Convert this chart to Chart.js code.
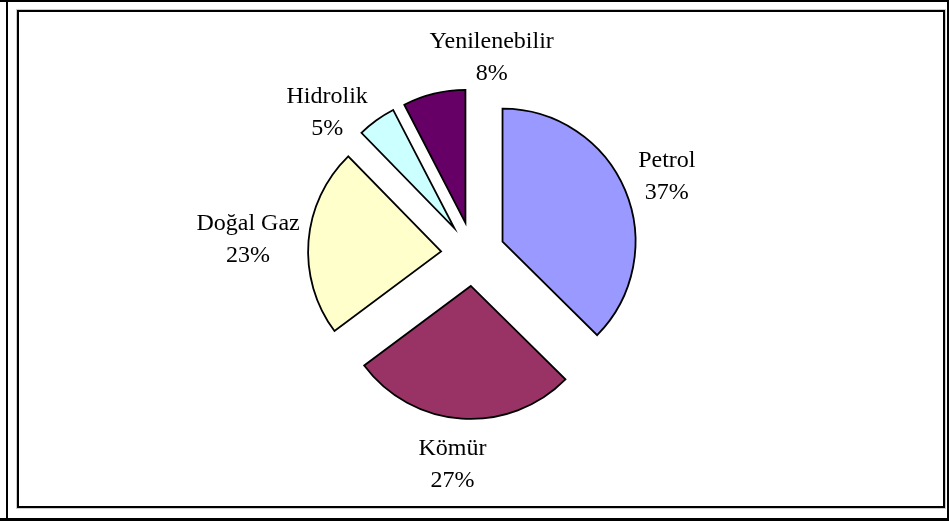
<!DOCTYPE html>
<html>
<head>
<meta charset="utf-8">
<script src="https://cdn.jsdelivr.net/npm/chart.js@4/dist/chart.umd.min.js"></script>
<style>
    html, body { margin: 0; padding: 0; background: #fff; }
    #wrap { position: relative; width: 949px; height: 521px; overflow: hidden; }
    .bar { position: absolute; background: #000; }
    #frame {
        position: absolute; left: 17px; top: 10px; width: 924px; height: 494px;
        border: 2px solid #000; box-shadow: 0 0 0 1px #ccc;
    }
    #chart { position: absolute; left: 0; top: 0; }
</style>
</head>
<body>
<div id="wrap">
    <div class="bar" style="left:0;top:0;width:949px;height:2px"></div>
    <div class="bar" style="left:6px;top:0;width:2px;height:521px"></div>
    <div class="bar" style="left:947px;top:0;width:2px;height:521px"></div>
    <div class="bar" style="left:0;top:518px;width:949px;height:3px"></div>
    <div id="frame"></div>
    <canvas id="chart" width="949" height="521"></canvas>
</div>
<script>

// ================= DATA =================

const kaynaklar = ["Petrol", "Kömür", "Doğal Gaz", "Hidrolik", "Yenilenebilir"];
const paylar = [37.4, 27.4, 22.9, 4.7, 7.6];
const renkler = ["#9999FF", "#993366", "#FFFFCC", "#CCFFFF", "#660066"];

// how far every slice is pulled out of the pie, in pixels
const patlama = 32;

// ================= PATLATILMIŞ PASTA =================

// pie whose slices are simply shifted along their middle angle (Excel style),
// the built-in offset also bends the slice shape
class PatlamisPasta extends Chart.PieController {
    static id = "patlamisPasta";

    draw() {
        const ctx = this.chart.ctx;
        const area = this.chart.chartArea;
        this._cachedMeta.data.forEach(arc => {
            const mid = (arc.startAngle + arc.endAngle) / 2;
            ctx.save();
            ctx.translate(Math.cos(mid) * patlama, Math.sin(mid) * patlama);
            arc.draw(ctx, area);
            ctx.restore();
        });
    }
}

Chart.register(PatlamisPasta);

// ================= ETİKETLER =================

// Excel-style labels outside each exploded slice
const labelNudge = [[5, 3], [-6, 3], [2, 2], [-19, 27], [75, 6]];

const dilimEtiketleri = {
    id: "dilimEtiketleri",
    afterDatasetsDraw(chart) {

        const ctx = chart.ctx;
        const meta = chart.getDatasetMeta(0);
        const toplam = paylar.reduce((a, b) => a + b, 0);
        const lineH = 32;
        const pad = 176;

        ctx.save();
        ctx.font = "24px 'Liberation Serif', 'Times New Roman', serif";
        ctx.fillStyle = "#000";
        ctx.textAlign = "center";
        ctx.textBaseline = "middle";

        meta.data.forEach((arc, i) => {

            const p = arc.getProps(["x", "y", "startAngle", "endAngle"], true);
            const mid = (p.startAngle + p.endAngle) / 2;
            const dx = Math.cos(mid);
            const dy = Math.sin(mid);

            const satir1 = kaynaklar[i];
            const satir2 = Math.round(paylar[i] / toplam * 100) + "%";
            const w = Math.max(ctx.measureText(satir1).width, ctx.measureText(satir2).width);
            const h = lineH * 2;

            const cx = p.x + pad * dx + dx * w / 2 + labelNudge[i][0];
            const cy = p.y + pad * dy + dy * h / 2 + labelNudge[i][1];

            ctx.fillText(satir1, cx, cy - lineH / 2);
            ctx.fillText(satir2, cx, cy + lineH / 2);

        });

        ctx.restore();
    }
};

// ================= GRAFİK =================

new Chart(
    document.getElementById("chart"),
    {
        type: "patlamisPasta",
        data: {
            labels: kaynaklar,
            datasets: [{
                data: paylar,
                backgroundColor: renkler,
                borderColor: "#000",
                borderWidth: 1.8,
                borderJoinStyle: "miter"
            }]
        },
        options: {
            responsive: false,
            animation: false,
            radius: 133,
            layout: {
                padding: { left: 0, right: 3, top: 0, bottom: 13 }
            },
            plugins: {
                legend: { display: false },
                tooltip: { enabled: false }
            }
        },
        plugins: [dilimEtiketleri]
    }
);

</script>
</body>
</html>
